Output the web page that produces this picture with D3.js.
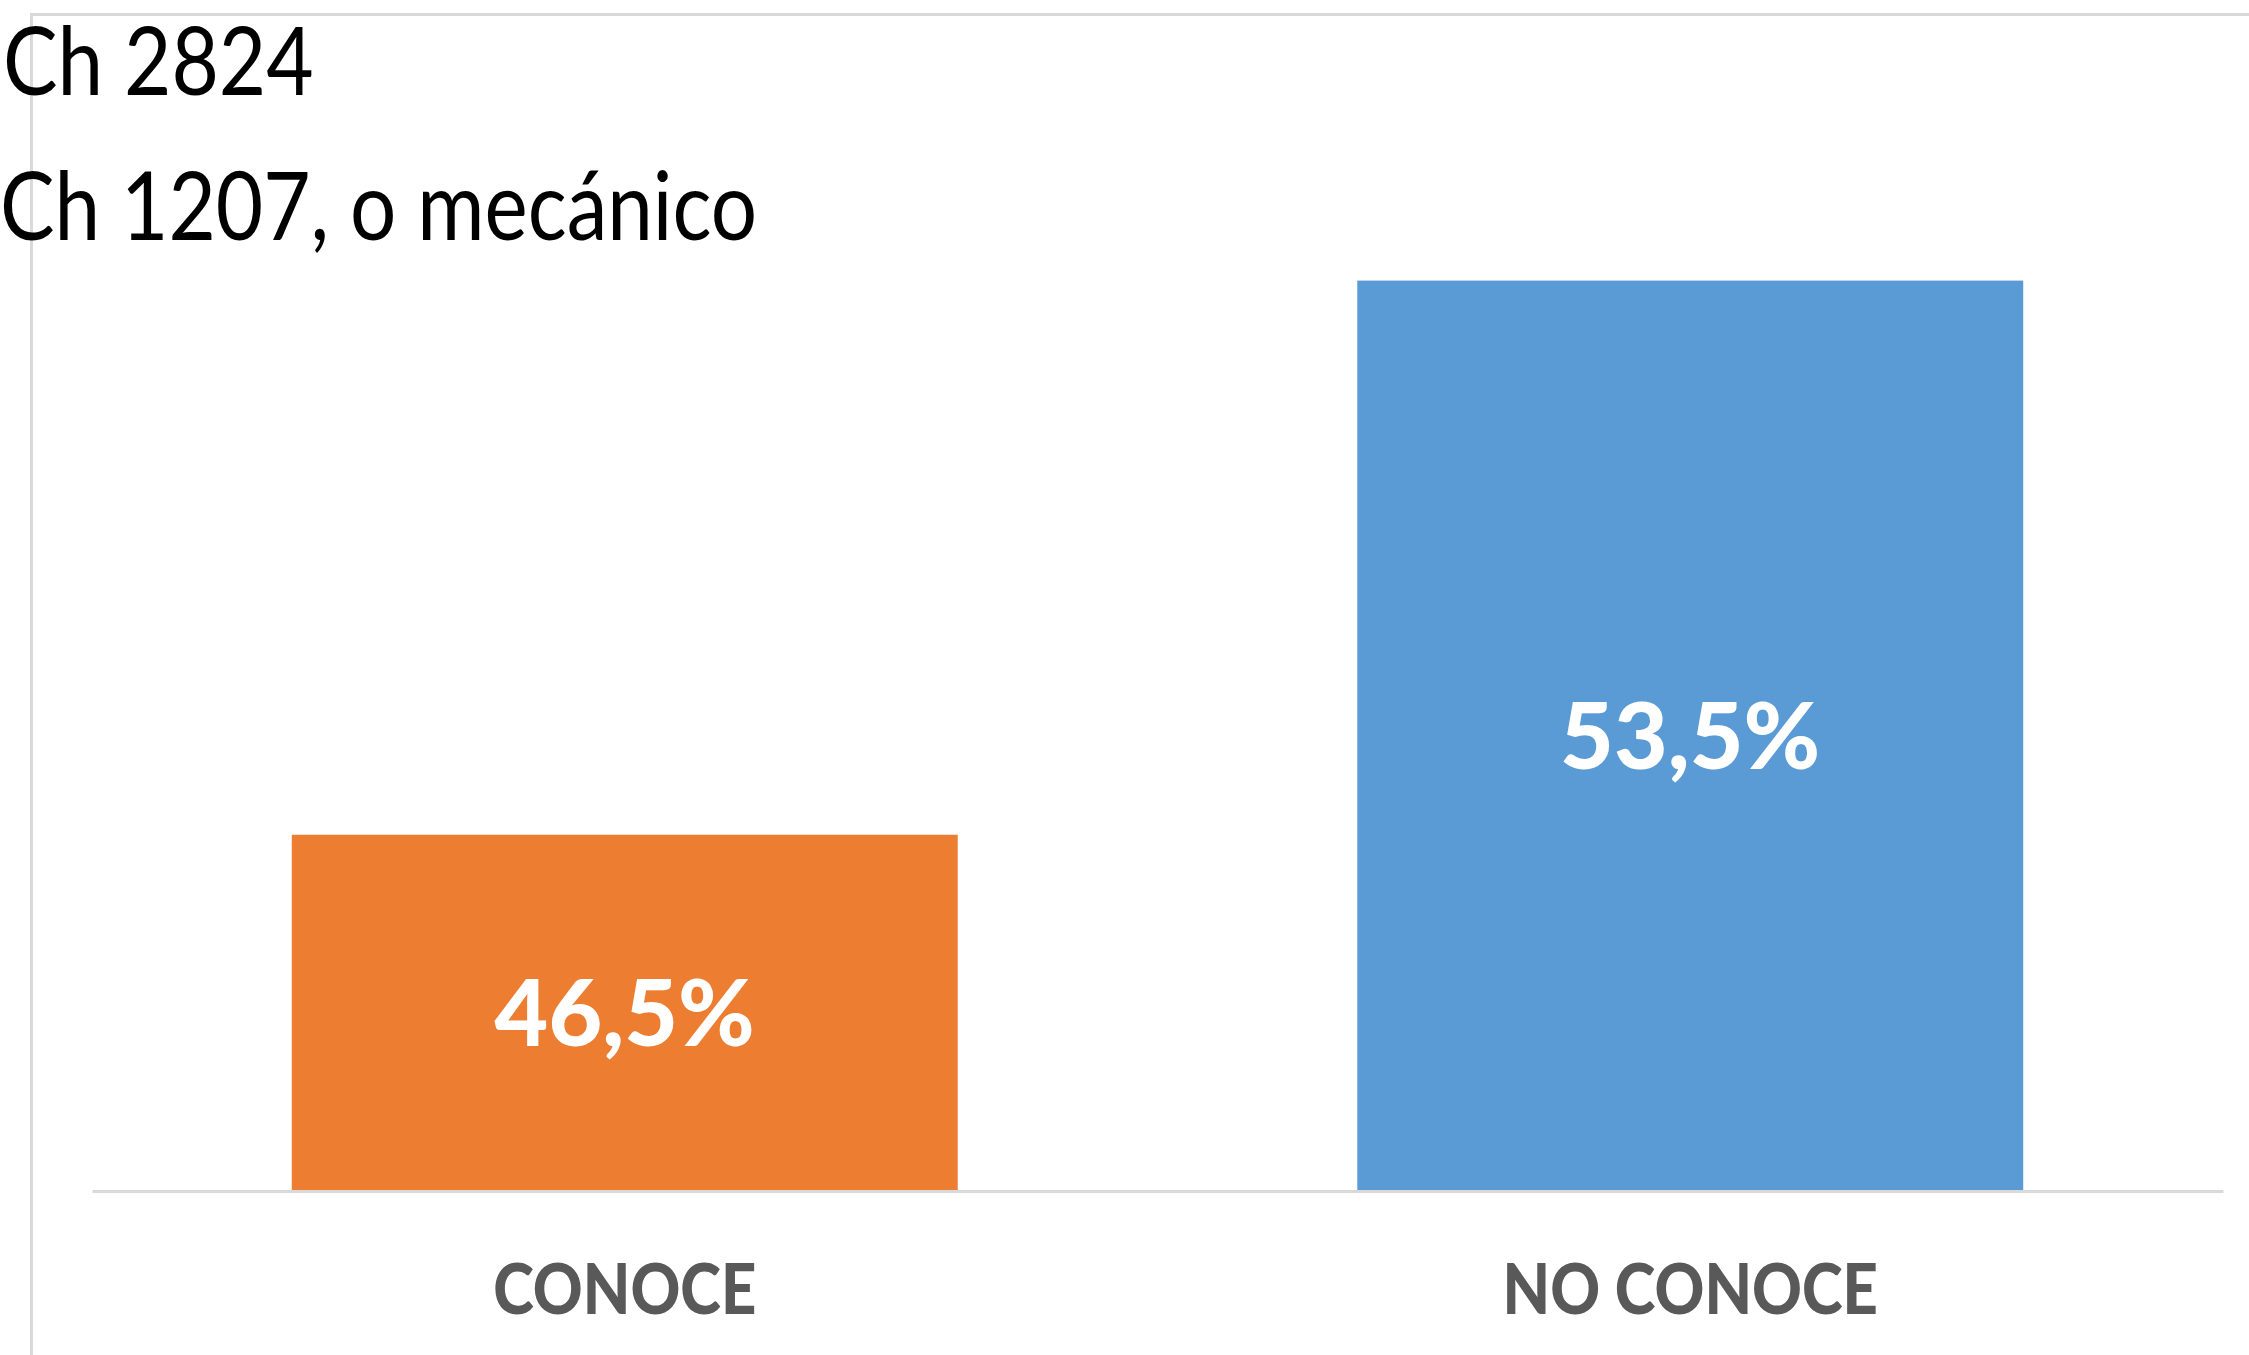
<!DOCTYPE html>
<html>
<head>
<meta charset="utf-8">
<script src="https://cdn.jsdelivr.net/npm/d3@7"></script>
<style>
  html, body { margin: 0; padding: 0; background: #fff; overflow: hidden; }
  svg { display: block; }
</style>
</head>
<body>
<svg id="chart"></svg>
<script>
// chart data
const categories = ["CONOCE", "NO CONOCE"];
const values = [46.5, 53.5];
const barColors = ["#ED7D31", "#5B9BD5"];
const titleLines = ["Ch 2824", "Ch 1207, o mecánico"];
const yDomain = [42, 54];   // value axis does not start at zero

const width = 2249;
const height = 1355;
const plot = { left: 92, right: 2223, top: 241, bottom: 1191 };
const fontFamily = "Lato, 'Open Sans', sans-serif";

// Lato runs wider than the original Calibri, so squeeze text horizontally
function squeeze(sel, factor) {
  sel.each(function() {
    const len = this.getComputedTextLength();
    d3.select(this)
      .attr("textLength", len * factor)
      .attr("lengthAdjust", "spacingAndGlyphs");
  });
}

const svg = d3.select("#chart")
    .attr("width", width)
    .attr("height", height);

svg.append("rect")
    .attr("width", width)
    .attr("height", height)
    .attr("fill", "#fff");

// chart area border (only top and left edges are visible in the crop)
svg.append("rect")
    .attr("x", 31.5)
    .attr("y", 14.5)
    .attr("width", width + 100)
    .attr("height", height + 100)
    .attr("fill", "none")
    .attr("stroke", "#D9D9D9")
    .attr("stroke-width", 3);

const x = d3.scaleBand()
    .domain(categories)
    .range([plot.left, plot.right])
    .paddingInner(0.375)
    .paddingOuter(0.1875);

const y = d3.scaleLinear()
    .domain(yDomain)
    .range([plot.bottom, plot.top]);

// bars
svg.selectAll(".bar")
    .data(values)
    .join("rect")
    .attr("class", "bar")
    .attr("x", (d, i) => x(categories[i]))
    .attr("y", d => y(d))
    .attr("width", x.bandwidth())
    .attr("height", d => y(yDomain[0]) - y(d))
    .attr("fill", (d, i) => barColors[i]);

// category axis
const xAxis = d3.axisBottom(x).tickSize(0).tickPadding(0);
const gx = svg.append("g")
    .attr("transform", `translate(0, ${plot.bottom})`)
    .call(xAxis);

gx.select(".domain")
    .attr("stroke", "#D9D9D9")
    .attr("stroke-width", 3);

gx.selectAll(".tick text")
    .attr("y", 123)
    .attr("dy", 0)
    .attr("fill", "#595959")
    .attr("font-family", fontFamily)
    .attr("font-weight", 900)
    .attr("font-size", 70)
    .call(squeeze, 0.88);

// data labels, comma as decimal mark
const fmt = d => d3.format(".1f")(d).replace(".", ",") + "%";

svg.selectAll(".label")
    .data(values)
    .join("text")
    .attr("class", "label")
    .attr("x", (d, i) => x(categories[i]) + x.bandwidth() / 2)
    .attr("y", d => (y(d) + y(yDomain[0])) / 2)
    .attr("dy", "0.36em")
    .attr("text-anchor", "middle")
    .attr("fill", "#fff")
    .attr("font-family", fontFamily)
    .attr("font-weight", 900)
    .attr("font-size", 91)
    .text(fmt)
    .call(squeeze, 1.02);

// title lines, top left, partly outside the chart border
svg.selectAll(".title")
    .data(titleLines)
    .join("text")
    .attr("class", "title")
    .attr("x", (d, i) => i === 0 ? 3 : 0)
    .attr("y", (d, i) => i === 0 ? 95 : 240)
    .attr("fill", "#000")
    .attr("font-family", fontFamily)
    .attr("font-size", 95)
    .text(d => d)
    .call(squeeze, 0.86);
</script>
</body>
</html>
